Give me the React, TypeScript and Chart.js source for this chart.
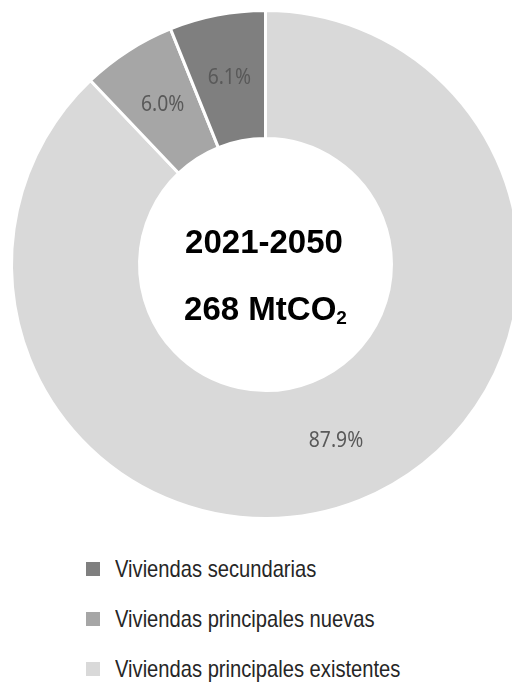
import React, { useEffect, useRef } from "react";
import { Chart, registerables } from "chart.js";

Chart.register(...registerables);

const categories = [
  "Viviendas principales existentes",
  "Viviendas principales nuevas",
  "Viviendas secundarias",
];
const shares = [87.9, 6.0, 6.1];
const colors = ["#d9d9d9", "#a6a6a6", "#7f7f7f"];
const centerLine1 = "2021-2050";
const centerLine2 = "268 MtCO";
const centerSub = "2";

const legendOrder = [2, 1, 0];

const CX = 265.5;
const CY = 264.5;

export default function App() {
  const ref = useRef<HTMLCanvasElement | null>(null);

  useEffect(() => {
    const canvas = ref.current;
    if (!canvas) return;

    const labelsPlugin = {
      id: "sliceLabels",
      afterDatasetsDraw(chart: any) {
        const ctx = chart.ctx;
        const meta = chart.getDatasetMeta(0);
        meta.data.forEach((arc: any, i: number) => {
          const p = arc.tooltipPosition();
          ctx.save();
          ctx.translate(p.x, p.y);
          ctx.scale(0.92, 1);
          ctx.font = '21px "Noto Sans", sans-serif';
          ctx.fillStyle = "#595959";
          ctx.textAlign = "center";
          ctx.textBaseline = "middle";
          ctx.fillText(shares[i].toFixed(1) + "%", 0, 0);
          ctx.restore();
        });
      },
    };

    const centerPlugin = {
      id: "centerText",
      afterDraw(chart: any) {
        const ctx = chart.ctx;
        const arc = chart.getDatasetMeta(0).data[0];
        const cx = arc.x;
        const cy = arc.y;
        ctx.save();
        ctx.fillStyle = "#000000";
        ctx.textBaseline = "alphabetic";
        ctx.textAlign = "left";
        ctx.font = 'bold 33px "Liberation Sans", Arial, sans-serif';
        const w1 = ctx.measureText(centerLine1).width;
        ctx.fillText(centerLine1, cx - w1 / 2 - 1.5, cy - 11.5);
        const w2 = ctx.measureText(centerLine2).width;
        ctx.font = 'bold 19px "Liberation Sans", Arial, sans-serif';
        const ws = ctx.measureText(centerSub).width;
        const start = cx - (w2 + ws) / 2;
        ctx.font = 'bold 33px "Liberation Sans", Arial, sans-serif';
        ctx.fillText(centerLine2, start, cy + 55.5);
        ctx.font = 'bold 19px "Liberation Sans", Arial, sans-serif';
        ctx.fillText(centerSub, start + w2, cy + 59);
        ctx.restore();
      },
    };

    const chart = new Chart(canvas, {
      type: "doughnut",
      data: {
        labels: categories,
        datasets: [
          {
            data: shares,
            backgroundColor: colors,
            borderColor: "#ffffff",
            borderWidth: 3,
            hoverOffset: 0,
          },
        ],
      },
      options: {
        responsive: false,
        animation: false,
        devicePixelRatio: 1,
        cutout: "49.6%",
        rotation: 0,
        layout: { padding: { left: 10, right: 10, top: 9, bottom: 9 } },
        plugins: {
          legend: { display: false },
          tooltip: { enabled: false },
        },
      },
      plugins: [labelsPlugin, centerPlugin],
    } as any);

    return () => chart.destroy();
  }, []);

  return (
    <div
      style={{
        position: "fixed",
        left: 0,
        top: 0,
        width: 512,
        height: 682,
        overflow: "hidden",
        background: "#ffffff",
      }}
    >
      <canvas
        ref={ref}
        width={CX * 2}
        height={CY * 2}
        style={{ position: "absolute", left: 0, top: 0, width: CX * 2, height: CY * 2 }}
      />
      {legendOrder.map((idx, row) => (
        <div
          key={idx}
          style={{
            position: "absolute",
            left: 86,
            top: 553 + row * 50,
            height: 32,
            display: "flex",
            alignItems: "center",
            whiteSpace: "nowrap",
          }}
        >
          <div
            style={{
              width: 14,
              height: 14,
              background: colors[idx],
              marginRight: 15,
              flex: "none",
            }}
          />
          <span
            style={{
              fontFamily: '"Liberation Sans", Arial, sans-serif',
              fontSize: 24,
              color: "#262626",
              lineHeight: "32px",
              display: "inline-block",
              transform: "scaleX(0.84)",
              transformOrigin: "left center",
            }}
          >
            {categories[idx]}
          </span>
        </div>
      ))}
    </div>
  );
}
